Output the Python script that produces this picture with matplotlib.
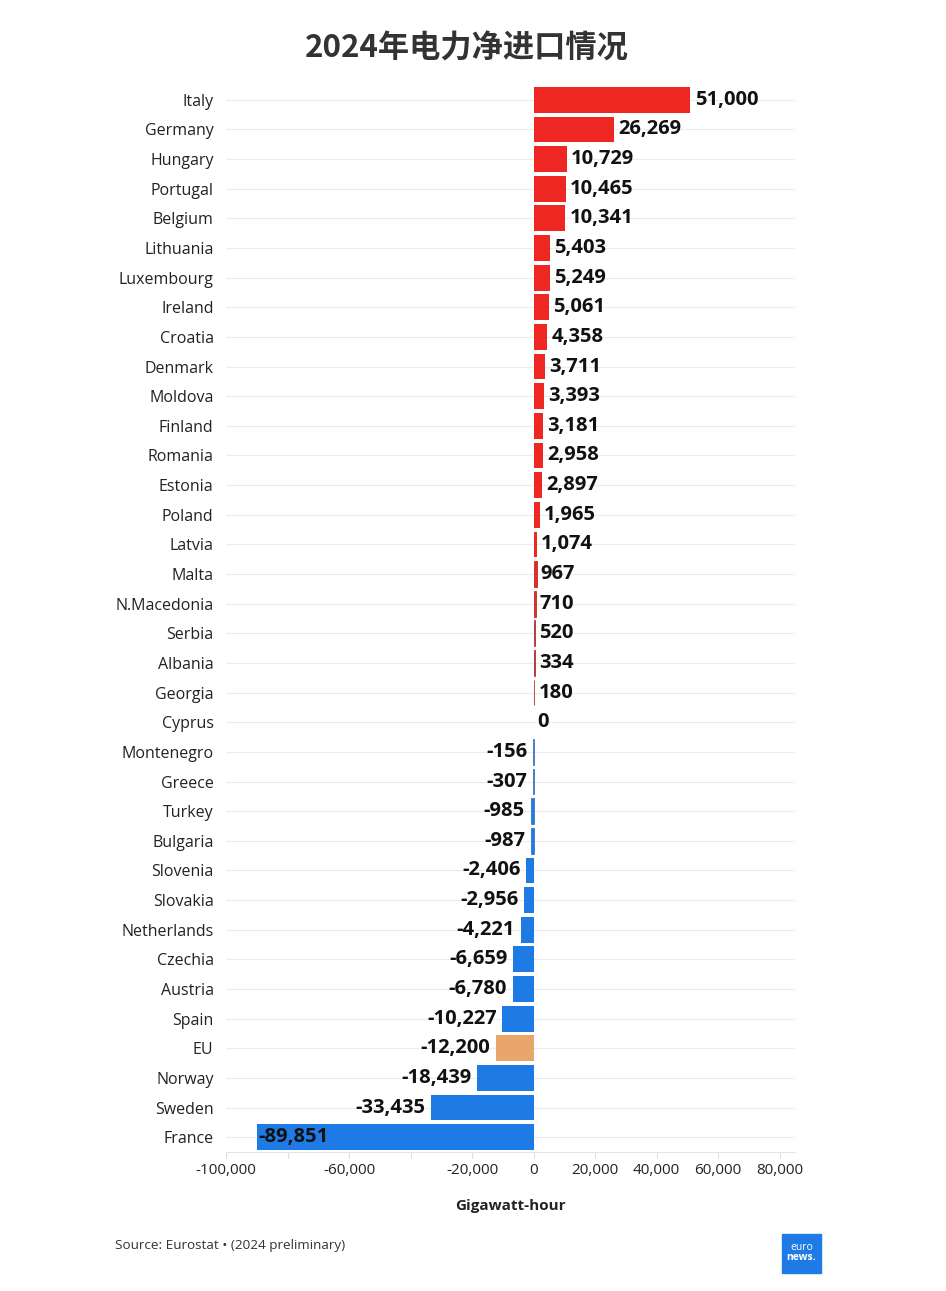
import matplotlib
matplotlib.use("Agg")
import matplotlib.pyplot as plt
import matplotlib.patches as patches
import numpy as np

countries = ['Italy', 'Germany', 'Hungary', 'Portugal', 'Belgium', 'Lithuania', 'Luxembourg',
             'Ireland', 'Croatia', 'Denmark', 'Moldova', 'Finland', 'Romania', 'Estonia',
             'Poland', 'Latvia', 'Malta', 'N.Macedonia', 'Serbia', 'Albania', 'Georgia',
             'Cyprus', 'Montenegro', 'Greece', 'Turkey', 'Bulgaria', 'Slovenia', 'Slovakia',
             'Netherlands', 'Czechia', 'Austria', 'Spain', 'EU', 'Norway', 'Sweden', 'France']
values = [51000, 26269, 10729, 10465, 10341, 5403, 5249, 5061, 4358, 3711, 3393, 3181,
          2958, 2897, 1965, 1074, 967, 710, 520, 334, 180, 0, -156, -307, -985, -987,
          -2406, -2956, -4221, -6659, -6780, -10227, -12200, -18439, -33435, -89851]

xticks = [-100000, -80000, -60000, -40000, -20000, 0, 20000, 40000, 60000, 80000]
xticklabels = ['-100,000', '', '-60,000', '', '-20,000', '0', '20,000', '40,000', '60,000', '80,000']

RED = '#ee2722'
BLUE = '#1e7be6'
ORANGE = '#e9a66a'

plt.rcParams['font.family'] = ['Open Sans', 'Noto Sans CJK SC', 'DejaVu Sans']

fig = plt.figure(figsize=(9.46, 12.91), dpi=100)
ax = fig.add_axes([226/946, 1 - 1152/1291, (795 - 226)/946, (1152 - 85)/1291])

y = np.arange(len(countries))
colors = []
edges = []
for c, v in zip(countries, values):
    if c == 'EU':
        colors.append(ORANGE)
        edges.append(ORANGE)
    elif v >= 0:
        colors.append(RED)
        edges.append('#b0302c')
    else:
        colors.append(BLUE)
        edges.append('#3a78c0')

bars = ax.barh(y, values, height=0.87, color=colors, zorder=2)
# the tiny bars still show as a thin line in the original
for b, v, e in zip(bars, values, edges):
    if 0 < abs(v) < 1000:
        b.set_edgecolor(e)
        b.set_linewidth(0.6)

for yi, v in zip(y, values):
    txt = f"{v:,}"
    if v == -89851:
        ax.annotate(txt, (v, yi), xytext=(1, 0), textcoords='offset points',
                    ha='left', va='center', fontsize=14.5, fontweight='bold', color='#111111')
    elif v >= 0:
        ax.annotate(txt, (v, yi), xytext=(3, 0), textcoords='offset points',
                    ha='left', va='center', fontsize=14.5, fontweight='bold', color='#111111')
    else:
        ax.annotate(txt, (v, yi), xytext=(-4, 0), textcoords='offset points',
                    ha='right', va='center', fontsize=14.5, fontweight='bold', color='#111111')

ax.set_xlim(-100000, 85000)
ax.set_ylim(35.5, -0.5)
ax.set_yticks(y)
ax.set_yticklabels(countries, fontsize=11.5, color='#222222')
ax.tick_params(axis='y', length=0, pad=9)
ax.set_xticks(xticks)
ax.set_xticklabels(xticklabels, fontsize=11, color='#222222')
ax.tick_params(axis='x', length=4, color='#dddddd', pad=4)

ax.grid(axis='y', color='#ececec', linewidth=0.8, zorder=0)
ax.grid(axis='x', visible=False)
for s in ['top', 'right', 'left']:
    ax.spines[s].set_visible(False)
ax.spines['bottom'].set_color('#e4e4e4')

ax.set_xlabel('Gigawatt-hour', fontsize=11, fontweight='bold', color='#222222', labelpad=15)

fig.text(467/946, 1 - 49/1291, '2024年电力净进口情况', ha='center', va='center',
         fontsize=22.5, fontweight='bold', color='#333333',
         family=['Noto Sans CJK SC', 'DejaVu Sans'])

fig.text(115/946, 1 - 1245/1291, 'Source: Eurostat • (2024 preliminary)', ha='left', va='center',
         fontsize=9.7, color='#333333')

# euronews logo
fig.patches.append(patches.Rectangle((782/946, 1 - 1273/1291), 39/946, 39/1291,
                                     transform=fig.transFigure, color='#1e7be6'))
fig.text(801.5/946, 1 - 1248/1291, 'euro', ha='center', va='center', fontsize=7.5, color='white')
fig.text(801.5/946, 1 - 1258/1291, 'news.', ha='center', va='center', fontsize=7.5,
         fontweight='bold', color='white')

fig.savefig('out.png', dpi=100, facecolor='white')
